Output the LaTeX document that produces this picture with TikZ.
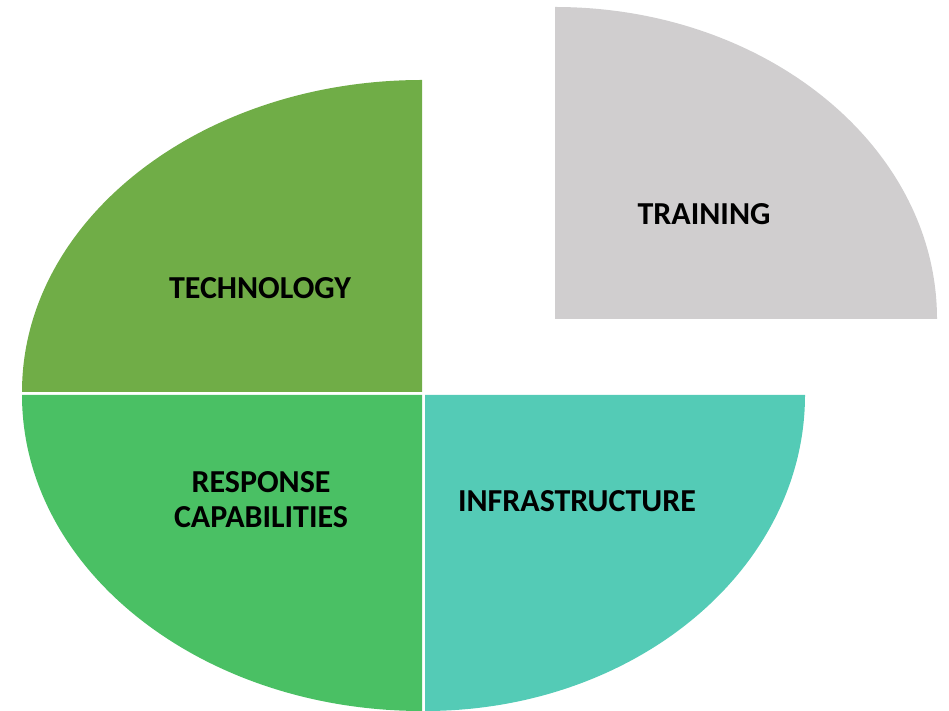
\documentclass[tikz,border=0pt]{standalone}
\usepackage{fontspec}
\setmainfont{Carlito}
\definecolor{techgreen}{RGB}{112,173,71}
\definecolor{respgreen}{RGB}{74,192,100}
\definecolor{infrateal}{RGB}{84,203,182}
\definecolor{traingray}{RGB}{208,206,207}
\begin{document}
\begin{tikzpicture}[x=1pt,y=1pt,
  lbl/.style={font=\fontsize{32}{35}\selectfont\bfseries, text=black, align=center, inner sep=0pt}]
\useasboundingbox (0,0) rectangle (949,711);
% quadrant centres
\coordinate (ctech) at (422,319);
\coordinate (cresp) at (422,316);
\coordinate (cinfra) at (425,316);
\coordinate (ctrain) at (555,392);
% technology (top-left)
\fill[techgreen] (ctech) -- (22,319) arc[start angle=180,end angle=90,x radius=400,y radius=312] -- cycle;
% response capabilities (bottom-left)
\fill[respgreen] (cresp) -- (22,316) arc[start angle=180,end angle=270,x radius=400,y radius=316] -- cycle;
% infrastructure (bottom-right)
\fill[infrateal] (cinfra) -- (805,316) arc[start angle=0,end angle=-90,x radius=380,y radius=316] -- cycle;
% training (exploded top-right)
\fill[traingray] (ctrain) -- (937,392) arc[start angle=0,end angle=90,x radius=382,y radius=312] -- cycle;
% labels
\node[lbl] (ttech) at (260,423) {TECHNOLOGY};
\node[lbl] (tresp) at (261,211) {RESPONSE\\CAPABILITIES};
\node[lbl] (tinfra) at (577,210) {INFRASTRUCTURE};
\node[lbl] (ttrain) at (704,497) {TRAINING};
\end{tikzpicture}
\end{document}
